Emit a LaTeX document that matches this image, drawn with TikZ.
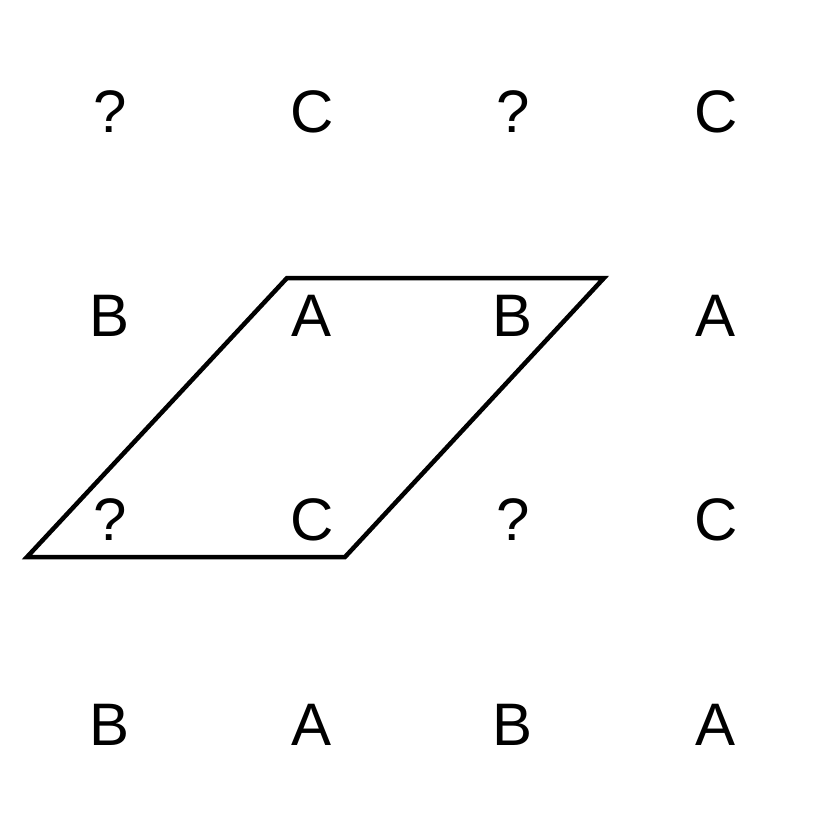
\documentclass[tikz,border=0pt]{standalone}
\usepackage{fontspec}
\setmainfont{Liberation Sans}
\usepackage{tikz}

\begin{document}
\begin{tikzpicture}[x=1pt,y=-1pt,
    letter/.style={anchor=base, inner sep=0pt, font=\fontsize{60}{72}\selectfont}]

\useasboundingbox (0,0) rectangle (830,838);

% Letter grid
\foreach \row/\y/\odd/\even in {1/132/?/C, 2/336/B/A, 3/540/?/C, 4/745/B/A} {
    \foreach \col/\x/\t in {1/110/\odd, 2/312/\even, 3/513/\odd, 4/716/\even}
        \node[letter] (l\row\col) at (\x,\y) {\t};
}

% Parallelogram
\coordinate (p1) at (27,557);
\coordinate (p2) at (345,557);
\coordinate (p3) at (604,278);
\coordinate (p4) at (287,278);
\draw[line width=4.5pt] (p1) -- (p2) -- (p3) -- (p4) -- cycle;

\end{tikzpicture}
\end{document}
